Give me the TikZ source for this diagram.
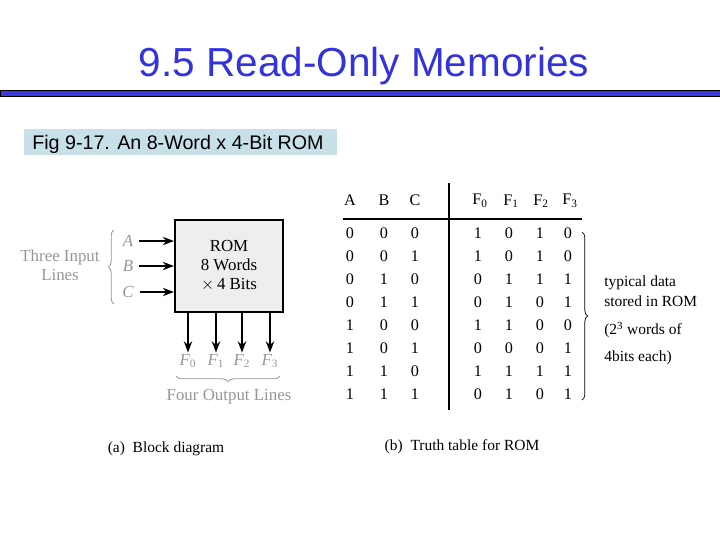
\documentclass[tikz,border=0pt]{standalone}
\usepackage{fontspec}
\setmainfont{Liberation Serif}
\newfontfamily\headfont{Liberation Sans}
\usetikzlibrary{arrows.meta,decorations.pathreplacing}
\definecolor{titleblue}{RGB}{51,51,221}
\definecolor{barblue}{RGB}{58,58,224}
\definecolor{capbg}{RGB}{200,225,232}
\definecolor{romgray}{RGB}{238,238,238}
\definecolor{labelgray}{RGB}{150,150,150}
\tikzset{
  rombox/.style={draw, line width=1.5pt, fill=romgray, minimum width=2.7cm, minimum height=2.3cm, align=center, font=\fontsize{12}{13.5}\selectfont},
  inlabel/.style={text=labelgray, font=\fontsize{12}{14}\selectfont\itshape, inner sep=1pt},
  graytext/.style={text=labelgray, font=\fontsize{12}{13.5}\selectfont, align=center},
  cell/.style={font=\fontsize{11.5}{13}\selectfont, inner sep=0pt},
  note/.style={anchor=west, font=\fontsize{11}{13}\selectfont, inner sep=0pt},
  sig/.style={line width=1pt, -{Stealth[length=2.8mm,width=2.1mm]}},
  graybrace/.style={decorate, decoration={brace, amplitude=4pt}, draw=labelgray, line width=0.6pt}
}
\begin{document}
\begin{tikzpicture}[x=0.025cm, y=-0.025cm]
  \useasboundingbox (0,0) rectangle (720,540);

  % title and bar
  \node[anchor=base, text=titleblue, font=\headfont\fontsize{28.8}{34}\selectfont] (title) at (364,76) {9.5 Read-Only Memories};
  \draw[fill=barblue, line width=0.6pt] (0,90) rectangle (720,96);

  % caption
  \fill[capbg] (24,129) rectangle (337,155);
  \node[anchor=base west, inner sep=0pt, font=\headfont\fontsize{14}{16}\selectfont] (cap) at (32,149) {Fig 9-17. An 8-Word x 4-Bit ROM};

  % (a) block diagram
  \node[rombox] (rom) at (229,266) {ROM\\8 Words\\$\times$\,4 Bits};
  \node[inlabel] (ina) at (128,241) {A};
  \node[inlabel] (inb) at (128,266) {B};
  \node[inlabel] (inc) at (128,292) {C};
  \draw[sig, shorten <=3pt] (ina) -- (ina -| rom.west);
  \draw[sig, shorten <=3pt] (inb) -- (inb -| rom.west);
  \draw[sig, shorten <=3pt] (inc) -- (inc -| rom.west);
  \draw[graybrace] (114,304) -- (114,230);
  \node[graytext] (inlines) at (60,265) {Three Input\\Lines};

  \foreach \k/\x in {0/188,1/216,2/242,3/270} {
    \node[inlabel] (f\k) at (\x,361) {F\textsubscript{\upshape\k}};
    \draw[sig] (rom.south -| f\k) -- (f\k.north);
  }
  \draw[graybrace] (280,376) -- (176,376);
  \node[graytext] (outlines) at (229,397) {Four Output Lines};
  \node[font=\fontsize{11}{13}\selectfont] (capa) at (166,449) {(a)\ \ Block diagram};

  % (b) truth table
  \node[cell] (ha) at (350,200) {A};
  \node[cell] (hb) at (384,200) {B};
  \node[cell] (hc) at (415,200) {C};
  \node[cell] (hf0) at (480,201) {F\textsubscript{0}};
  \node[cell] (hf1) at (511,201) {F\textsubscript{1}};
  \node[cell] (hf2) at (541,201) {F\textsubscript{2}};
  \node[cell] (hf3) at (570,201) {F\textsubscript{3}};
  \draw[line width=1.5pt] (343,219) -- (582,219);
  \draw[line width=1.5pt] (449,183) -- (449,410);
  \foreach \va/\vb/\vc/\fa/\fb/\fc/\fd [count=\i] in
    {0/0/0/1/0/1/0, 0/0/1/1/0/1/0, 0/1/0/0/1/1/1, 0/1/1/0/1/0/1,
     1/0/0/1/1/0/0, 1/0/1/0/0/0/1, 1/1/0/1/1/1/1, 1/1/1/0/1/0/1} {
    \node[cell] (a\i) at (350,{210+23*\i}) {\va};
    \node[cell] (b\i) at (384,{210+23*\i}) {\vb};
    \node[cell] (c\i) at (415,{210+23*\i}) {\vc};
    \node[cell] (fa\i) at (478,{210+23*\i}) {\fa};
    \node[cell] (fb\i) at (509,{210+23*\i}) {\fb};
    \node[cell] (fc\i) at (540,{210+23*\i}) {\fc};
    \node[cell] (fd\i) at (568,{210+23*\i}) {\fd};
  }
  \draw[decorate, decoration={brace, amplitude=4pt}, line width=0.5pt] (582,232) -- (582,400);
  \node[note] (n1) at (604,283) {typical data};
  \node[note] (n2) at (604,301) {stored in ROM};
  \node[note] (n3) at (604,330) {(2\textsuperscript{3} words of};
  \node[note] (n4) at (604,358) {4bits each)};
  \node[font=\fontsize{11}{13}\selectfont] (capb) at (462,447) {(b)\ \ Truth table for ROM};
\end{tikzpicture}
\end{document}
